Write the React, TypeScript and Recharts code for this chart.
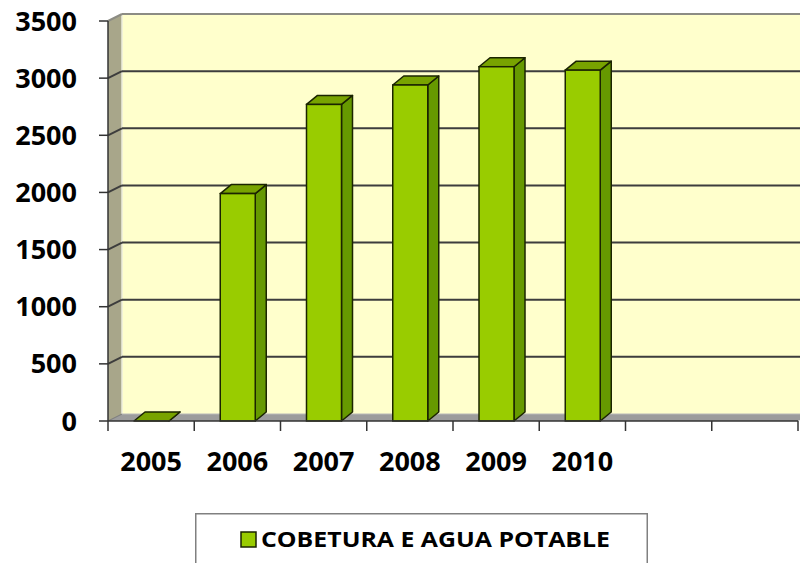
import React from 'react';
import { BarChart, Bar, XAxis, YAxis, CartesianGrid, Legend } from 'recharts';

// ---- data ----
const categories = ['2005', '2006', '2007', '2008', '2009', '2010', '', ''];
const coberturaValues: (number | null)[] = [0, 1990, 2770, 2940, 3100, 3070, null, null];
const yTicks = [0, 500, 1000, 1500, 2000, 2500, 3000, 3500];
const SERIES_NAME = 'COBETURA E AGUA POTABLE';

const data = categories.map((label, i) => ({
  slot: `c${i}`,
  label,
  cobertura: coberturaValues[i],
}));

// ---- layout ----
const CHART_W = 800;
const CHART_H = 563;
const MARGIN = { top: 21, right: 2, bottom: 0, left: 0 };
const Y_AXIS_W = 108;
const X_AXIS_H = 142;
const PLOT_W = CHART_W - MARGIN.left - MARGIN.right - Y_AXIS_W;
const BAND = PLOT_W / categories.length;

const WALL_DX = 14;
const WALL_DY = 7;
const BAR_DX = 11;
const BAR_DY = 9;

const FONT = '"Open Sans", Lato, sans-serif';
const GRID = '#3d3d3d';
const AXIS = '#333333';

const Walls = ({ x, y, width, height }: any) => {
  const b = y + height;
  return (
    <g>
      <polygon
        points={`${x + WALL_DX},${y - WALL_DY} ${x + width + WALL_DX},${y - WALL_DY} ${x + width + WALL_DX},${b - WALL_DY} ${x + WALL_DX},${b - WALL_DY}`}
        fill="#FFFFCC"
      />
      <polygon
        points={`${x},${y} ${x + WALL_DX},${y - WALL_DY} ${x + WALL_DX},${b - WALL_DY} ${x},${b}`}
        fill="#A8A68A"
      />
      <polygon
        points={`${x},${b} ${x + WALL_DX},${b - WALL_DY} ${x + width + WALL_DX},${b - WALL_DY} ${x + width},${b}`}
        fill="#9C9C9C"
      />
      <line x1={x + WALL_DX} y1={y - WALL_DY} x2={x + WALL_DX} y2={b - WALL_DY} stroke="#EDEDDD" strokeWidth={1.5} />
      <line x1={x} y1={b} x2={x + WALL_DX} y2={b - WALL_DY} stroke="#777" strokeWidth={1} />
      <line x1={x + WALL_DX} y1={b - WALL_DY} x2={x + width + WALL_DX} y2={b - WALL_DY} stroke="#B8B8B8" strokeWidth={1} />
    </g>
  );
};

const renderGridLine = (p: any) => {
  const { x, y, width, height, y1, index } = p;
  const isTop = Math.abs(y1 - y) < 0.5;
  const isBottom = Math.abs(y1 - (y + height)) < 0.5;
  const stroke = isTop ? '#8C8C84' : GRID;
  return (
    <g key={`grid-${index}`}>
      {index === 0 && <Walls x={x} y={y} width={width} height={height} />}
      {!isBottom && (
        <>
          <line x1={x + WALL_DX} y1={y1 - WALL_DY} x2={x + width + WALL_DX} y2={y1 - WALL_DY} stroke={stroke} strokeWidth={2} />
          <line x1={x} y1={y1} x2={x + WALL_DX} y2={y1 - WALL_DY} stroke={stroke} strokeWidth={2} />
        </>
      )}
    </g>
  );
};

const Bar3D = (props: any) => {
  const { x, y, width, height, payload } = props;
  if (!payload || payload.cobertura == null) return null;
  const h = Math.max(0, height || 0);
  const edge = '#1B2400';
  return (
    <g>
      <polygon
        points={`${x + width},${y} ${x + width + BAR_DX},${y - BAR_DY} ${x + width + BAR_DX},${y + h - BAR_DY} ${x + width},${y + h}`}
        fill="#669900"
        stroke={edge}
        strokeWidth={1.5}
        strokeLinejoin="round"
      />
      <polygon
        points={`${x},${y} ${x + BAR_DX},${y - BAR_DY} ${x + width + BAR_DX},${y - BAR_DY} ${x + width},${y}`}
        fill="#78A300"
        stroke={edge}
        strokeWidth={1.5}
        strokeLinejoin="round"
      />
      {h > 0 && <rect x={x} y={y} width={width} height={h} fill="#99CC00" stroke={edge} strokeWidth={1.5} />}
    </g>
  );
};

const XTick = (props: any) => {
  const { x, y, payload } = props;
  const idx = data.findIndex((d) => d.slot === payload.value);
  const label = idx >= 0 ? data[idx].label : '';
  const left = x - BAND / 2;
  return (
    <g>
      <line x1={left} y1={y} x2={left} y2={y + 10} stroke={AXIS} strokeWidth={1.5} />
      {idx === categories.length - 1 && (
        <line x1={x + BAND / 2} y1={y} x2={x + BAND / 2} y2={y + 10} stroke={AXIS} strokeWidth={1.5} />
      )}
      {label && (
        <text x={x} y={y + 50} textAnchor="middle" fill="#000" fontSize={27} fontWeight={700} fontFamily={FONT}>
          {label}
        </text>
      )}
    </g>
  );
};

const LegendBox = (props: any) => {
  const item = props.payload && props.payload[0];
  const name = item ? item.value : SERIES_NAME;
  return (
    <svg width={453} height={50} style={{ display: 'block' }}>
      <rect x={0.75} y={0.75} width={451.5} height={60} fill="#FFFFFF" stroke="#808080" strokeWidth={1.5} />
      <rect x={46} y={19} width={15} height={15} fill="#99CC00" stroke="#1B2400" strokeWidth={1.5} />
      <text
        x={66}
        y={34}
        fontSize={21}
        fontWeight={700}
        fontFamily={FONT}
        fill="#000"
        textLength={349}
        lengthAdjust="spacingAndGlyphs"
      >
        {name}
      </text>
    </svg>
  );
};

export default function App() {
  return (
    <div style={{ position: 'absolute', left: 0, top: 0, width: CHART_W, height: CHART_H, overflow: 'hidden', background: '#fff' }}>
      <BarChart width={CHART_W} height={CHART_H} data={data} margin={MARGIN}>
        <CartesianGrid vertical={false} horizontal={renderGridLine} />
        <XAxis
          dataKey="slot"
          interval={0}
          height={X_AXIS_H}
          tickLine={false}
          tickSize={0}
          tickMargin={0}
          axisLine={{ stroke: AXIS, strokeWidth: 1.5 }}
          tick={<XTick />}
        />
        <YAxis
          width={Y_AXIS_W}
          domain={[0, 3500]}
          ticks={yTicks}
          interval={0}
          tickSize={9}
          tickMargin={22}
          axisLine={{ stroke: AXIS, strokeWidth: 1.5 }}
          tickLine={{ stroke: AXIS, strokeWidth: 1.5 }}
          tick={{ fill: '#000', fontSize: 27, fontWeight: 700, fontFamily: FONT }}
        />
        <Bar
          dataKey="cobertura"
          name={SERIES_NAME}
          fill="#99CC00"
          barSize={35}
          isAnimationActive={false}
          shape={(p: any) => <Bar3D {...p} />}
        />
        <Legend
          layout="vertical"
          align="center"
          verticalAlign="middle"
          content={<LegendBox />}
          wrapperStyle={{ position: 'absolute', left: 195, top: 513, width: 453, height: 50, margin: 0, padding: 0 }}
        />
      </BarChart>
    </div>
  );
}
